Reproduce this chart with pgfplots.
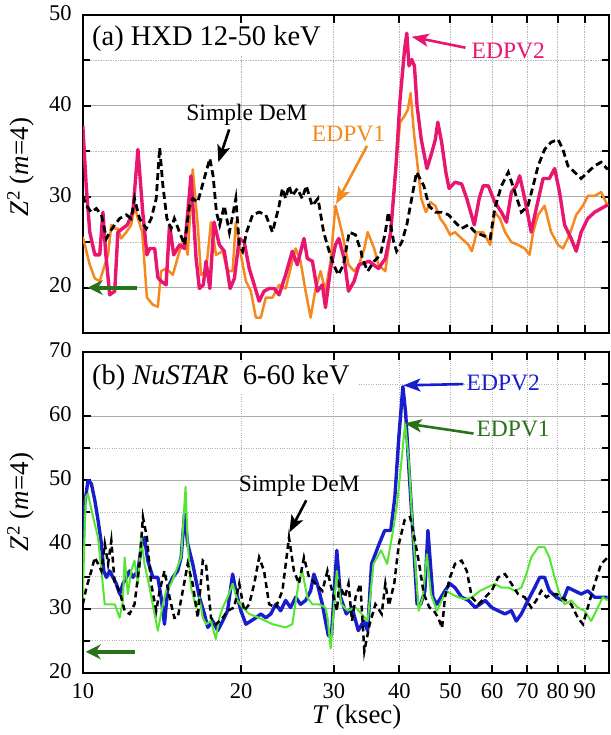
\documentclass[border=0pt]{standalone}
\usepackage{fontspec}
\setmainfont{Liberation Serif}
\usepackage{pgfplots}
\pgfplotsset{compat=1.18}
\usetikzlibrary{arrows.meta}

\definecolor{edpvtwo}{RGB}{232,22,110}
\definecolor{edpvone}{RGB}{245,137,31}
\definecolor{nublue}{RGB}{25,30,205}
\definecolor{nugreen}{RGB}{85,230,50}
\definecolor{darkgr}{RGB}{40,115,25}

\newcommand{\ticksize}{\fontsize{22.5}{26}\selectfont}
\newcommand{\titlesize}{\fontsize{28.5}{32}\selectfont}
\newcommand{\annsize}{\fontsize{23.5}{27}\selectfont}
\newcommand{\labsize}{\fontsize{27}{31}\selectfont}

\tikzset{
  annlbl/.style={font=\annsize, inner sep=1pt},
  annarrow/.style={-{Stealth[length=17pt,width=13pt,inset=4pt]}, line width=2.6pt},
  sigarrow/.style={darkgr, line width=4pt, -{Stealth[length=15pt,width=15pt]}},
}

\begin{document}
\begin{tikzpicture}
\path[use as bounding box] (-82.8pt,-62pt) rectangle (527.2pt,673pt);

% ---------------- (a) HXD 12-50 keV ----------------
\begin{axis}[at={(0pt,340pt)}, anchor=south west,
  scale only axis, width=526pt, height=318pt,
  xmode=log, xmin=10, xmax=100,
  xtick={10,20,30,40,50,60,70,80,90}, xticklabels={},
  minor xtick={20,30,40,50,60,70,80,90},
  ymin=15, ymax=50, ytick={20,30,40,50}, minor y tick num=1,
  axis line style={line width=2.2pt},
  tick style={line width=2pt, black},
  tick align=inside, major tick length=8pt, minor tick length=7pt,
  ymajorgrids, yminorgrids, xminorgrids,
  major grid style={gray!65, line width=1.2pt},
  minor grid style={gray!55, dash pattern=on 1.5pt off 1pt, line width=0.9pt},
  tick label style={font=\ticksize},
  /pgf/number format/assume math mode=true,
  yticklabel style={anchor=east, inner sep=0pt, xshift=-11pt, yshift=2pt}]
% EDPV1
\addplot[edpvone, line width=2.5pt, line join=round] coordinates {
(10.00,25.6)(10.31,22.5)(10.54,21.0)(10.77,20.7)(11.01,22.5)(11.17,23.6)(11.33,26.9)(11.50,26.5)(11.66,26.5)(11.83,25.4)(12.10,26.1)(12.36,26.9)(12.54,29.0)(12.73,27.6)(12.97,26.1)(13.24,18.9)(13.59,18.1)(13.89,17.9)(14.09,21.8)(14.40,22.1)(14.83,21.4)(15.27,24.0)(15.61,25.4)(15.83,23.6)(16.18,33.0)(16.54,26.9)(16.78,21.4)(17.15,21.8)(17.53,27.2)(17.92,23.6)(18.45,24.0)(18.85,21.8)(19.27,21.8)(19.54,27.2)(19.98,23.6)(20.42,20.7)(20.87,19.6)(21.33,16.7)(21.80,16.7)(22.28,18.9)(22.94,18.9)(23.61,20.3)(24.30,19.9)(25.02,22.9)(25.39,24.3)(25.94,22.9)(26.52,19.6)(27.11,16.7)(27.71,19.9)(28.32,21.8)(28.93,19.6)(29.58,22.9)(30.22,29.0)(31.1,26.1)(32.0,22.5)(32.8,21.8)(33.5,22.5)(34.3,24.3)(34.8,26.1)(35.8,24.3)(36.5,22.5)(37.6,21.8)(38.5,26.1)(39.4,33.4)(40.1,38.2)(40.9,38.9)(41.5,39.6)(42.0,41.4)(42.6,37.1)(43.3,33.4)(44.0,29.8)(44.9,28.3)(45.8,29.4)(46.8,29.0)(47.8,27.6)(48.8,26.9)(49.9,25.8)(51.0,26.1)(52.5,25.4)(54.1,24.7)(54.9,24.0)(56.1,26.1)(57.7,26.1)(59.5,24.7)(60.7,28.3)(62.1,27.6)(63.5,26.1)(65.3,25.0)(67.2,24.7)(69.2,24.3)(70.7,23.6)(71.8,26.1)(73.4,28.0)(75.5,29.0)(77.7,26.1)(80.1,24.7)(81.8,24.3)(84.2,25.8)(86.7,28.0)(89.3,29.0)(91.2,30.1)(94.0,30.1)(96.7,30.5)(99.5,29.0)
};
% EDPV2
\addplot[edpvtwo, line width=3.4pt, line join=round] coordinates {
(10.00,37.8)(10.15,31.2)(10.31,26.1)(10.54,23.6)(10.77,23.6)(10.92,28.3)(11.05,23.9)(11.25,19.2)(11.50,19.6)(11.66,26.1)(11.90,26.5)(12.15,26.9)(12.45,28.3)(12.73,35.2)(13.00,28.3)(13.24,23.6)(13.40,24.3)(13.70,24.3)(13.89,21.1)(14.09,20.7)(14.40,20.3)(14.62,26.9)(14.89,23.6)(15.27,24.7)(15.61,24.3)(16.06,32.3)(16.42,23.2)(16.66,19.9)(16.95,20.3)(17.15,22.9)(17.44,19.9)(17.76,27.2)(18.18,24.7)(18.58,24.0)(19.06,19.9)(19.42,21.0)(19.84,25.4)(20.27,25.0)(20.72,22.1)(21.18,20.3)(21.64,18.5)(22.11,19.6)(22.61,19.9)(23.11,19.9)(23.61,19.2)(24.30,21.4)(25.02,24.0)(25.57,22.5)(26.33,25.4)(26.72,23.2)(27.32,22.9)(27.93,19.6)(28.54,20.3)(28.93,17.8)(29.58,22.1)(30.22,24.7)(30.67,25.4)(31.4,23.2)(32.0,19.6)(32.8,20.7)(33.5,22.5)(35.0,22.9)(36.5,22.1)(37.6,23.2)(38.5,26.1)(39.4,33.4)(40.1,40.7)(40.9,46.2)(41.3,48.0)(41.7,44.4)(42.2,45.1)(42.7,44.4)(43.2,40.0)(44.0,36.3)(45.1,33.1)(46.1,34.9)(46.8,36.3)(47.3,38.2)(48.1,36.0)(49.0,32.7)(49.7,30.9)(51.0,31.6)(52.5,31.4)(53.7,29.8)(55.5,26.9)(56.7,29.8)(57.7,31.2)(59.0,31.2)(60.7,29.4)(62.5,28.3)(63.9,27.2)(65.3,30.5)(66.7,31.2)(67.7,32.3)(69.2,29.8)(71.2,26.1)(72.8,28.7)(75.0,32.0)(77.1,32.0)(78.9,33.1)(80.6,30.5)(82.4,26.9)(84.8,25.4)(86.7,24.0)(88.6,26.1)(91.2,27.6)(94.0,28.3)(96.7,28.7)(99.5,29.1)
};
% Simple DeM
\addplot[black, line width=2.8pt, dash pattern=on 7pt off 4pt] coordinates {
(10.00,30.1)(10.16,29.0)(10.38,28.3)(10.61,28.7)(10.85,28.0)(11.09,25.4)(11.25,26.1)(11.50,26.9)(11.75,27.6)(12.10,28.0)(12.36,27.6)(12.54,29.8)(12.82,27.6)(13.20,26.5)(13.49,27.6)(13.79,29.8)(14.00,35.4)(14.20,31.2)(14.45,27.6)(14.72,26.5)(14.93,27.6)(15.27,26.1)(15.61,24.7)(15.95,29.0)(16.18,29.8)(16.54,29.4)(16.87,31.2)(17.15,32.7)(17.44,34.2)(17.69,32.3)(17.95,28.3)(18.21,26.9)(18.58,29.0)(19.00,26.1)(19.54,29.8)(19.84,24.7)(20.13,24.0)(20.48,26.1)(21.03,28.0)(21.64,28.3)(22.28,28.0)(22.94,26.1)(23.61,29.0)(23.96,30.9)(24.30,29.8)(24.66,31.2)(25.02,30.1)(25.57,30.9)(26.13,29.8)(26.6,31.2)(27.3,29.0)(28.0,29.8)(28.7,26.1)(29.4,24.0)(30.0,22.5)(30.6,21.4)(31.3,22.5)(32.1,26.1)(33.0,25.8)(33.8,24.0)(34.0,23.2)(34.8,21.8)(35.8,22.9)(36.8,23.6)(37.6,26.1)(38.1,28.3)(39.0,25.0)(39.5,24.0)(40.4,25.0)(41.3,26.9)(42.2,29.8)(43.1,32.7)(44.5,31.2)(45.5,29.0)(46.8,28.3)(48.1,28.3)(49.6,28.0)(51.0,27.2)(52.5,26.5)(54.1,26.9)(55.7,26.1)(57.3,25.8)(59.5,25.4)(60.7,28.7)(62.5,31.2)(64.4,32.7)(66.3,30.5)(68.2,28.3)(70.2,29.0)(71.8,31.2)(73.4,33.4)(75.5,35.2)(77.7,36.0)(80.1,36.3)(81.8,35.2)(83.6,33.4)(86.1,32.7)(88.6,32.0)(91.2,32.7)(94.0,33.4)(96.7,33.8)(99.5,33.0)
};
% panel title
\node[fill=white, anchor=north west, inner xsep=8pt, inner ysep=3pt, font=\titlesize,
      xshift=1.1pt, yshift=-8pt] at (rel axis cs:0,1) {(a) HXD 12-50 keV};
% annotations
\node[annlbl] at (axis cs:20.5,38.96) {Simple DeM};
\draw[annarrow, black] (axis cs:18.98,37.4) -- (axis cs:18.1,33.8);
\node[annlbl, text=edpvone] at (axis cs:32.0,36.9) {EDPV1};
\draw[annarrow, edpvone] (axis cs:34.7,35.6) -- (axis cs:30.3,29.2);
\node[annlbl, text=edpvtwo] at (axis cs:64.4,46.1) {EDPV2};
\draw[annarrow, edpvtwo] (axis cs:53.4,46.4) -- (axis cs:42.2,47.6);
\draw[sigarrow] (axis cs:12.66,20) -- (axis cs:10.22,20);
\end{axis}

% ---------------- (b) NuSTAR 6-60 keV ----------------
\begin{axis}[at={(0pt,0pt)}, anchor=south west,
  scale only axis, width=526pt, height=321pt,
  xmode=log, xmin=10, xmax=100,
  xtick={10,20,30,40,50,60,70,80,90},
  xticklabels={10,20,30,40,50,60,70,80,90},
  minor xtick={20,30,40,50,60,70,80,90},
  ymin=20, ymax=70, ytick={20,30,40,50,60,70}, minor y tick num=1,
  axis line style={line width=2.2pt},
  tick style={line width=2pt, black},
  tick align=inside, major tick length=8pt, minor tick length=7pt,
  xminorgrids, ymajorgrids, yminorgrids,
  major grid style={gray!65, line width=1.2pt},
  minor grid style={gray!60, dotted, line width=0.9pt},
  tick label style={font=\ticksize},
  /pgf/number format/assume math mode=true,
  yticklabel style={anchor=east, inner sep=0pt, xshift=-11pt, yshift=2pt},
  xticklabel style={anchor=north, inner sep=0pt, yshift=-10pt}]
% EDPV2
\addplot[nublue, line width=3.4pt, line join=round] coordinates {
(10.00,39.6)(10.09,46.4)(10.23,50.0)(10.38,49.5)(10.54,46.9)(10.69,43.8)(10.85,40.1)(10.96,35.9)(11.09,34.9)(11.25,35.9)(11.41,34.9)(11.58,33.9)(11.75,32.3)(11.92,33.9)(12.10,34.9)(12.27,35.9)(12.45,34.9)(12.73,35.9)(12.91,39.6)(13.10,41.1)(13.29,37.5)(13.59,34.9)(13.89,34.9)(14.09,31.8)(14.30,27.6)(14.51,33.3)(14.83,34.9)(15.15,35.9)(15.38,38.0)(15.61,44.8)(15.83,40.1)(16.18,37.0)(16.66,31.8)(17.03,29.2)(17.28,27.1)(17.66,28.1)(18.05,26.6)(18.45,28.1)(18.85,29.7)(19.27,35.4)(19.54,32.8)(19.98,29.7)(20.42,27.6)(20.87,28.1)(21.33,28.6)(21.80,29.2)(22.28,28.6)(22.77,29.2)(23.27,30.7)(23.78,29.7)(24.30,31.3)(24.83,30.2)(25.39,31.8)(25.94,30.7)(26.52,31.3)(27.11,32.8)(27.50,35.4)(27.91,33.9)(28.54,30.7)(28.93,28.1)(29.3,25.8)(29.7,25.8)(30.4,39.1)(30.9,31.8)(31.7,29.2)(32.5,30.2)(33.4,26.6)(34.2,28.1)(34.8,26.6)(35.4,37.0)(36.6,40.1)(37.5,42.2)(38.5,42.2)(39.2,47.4)(39.9,56.8)(40.6,64.6)(41.1,60.4)(41.7,51.6)(42.4,42.2)(43.2,30.7)(43.9,30.7)(44.7,32.8)(45.3,42.2)(46.3,31.8)(47.1,30.7)(48.8,32.8)(49.9,33.9)(51.0,33.3)(52.5,31.8)(54.1,31.3)(55.7,30.2)(56.9,30.7)(58.2,31.3)(59.9,30.2)(61.6,29.7)(63.5,29.2)(65.3,29.7)(66.7,28.1)(68.2,29.2)(70.2,31.3)(72.3,33.3)(73.9,34.9)(75.5,34.9)(77.1,32.8)(79.5,31.8)(81.8,31.3)(83.6,33.3)(86.1,32.8)(88.6,32.3)(91.2,32.8)(94.0,31.8)(96.7,31.8)(99.5,31.8)
};
% EDPV1
\addplot[nugreen, line width=2pt, line join=round] coordinates {
(10.00,31.3)(10.04,37.0)(10.13,47.4)(10.23,47.9)(10.46,44.3)(10.69,41.1)(10.85,35.9)(11.01,30.7)(11.25,30.7)(11.50,30.7)(11.75,28.6)(11.92,31.3)(12.01,38.0)(12.18,32.3)(12.36,35.9)(12.54,37.5)(12.73,33.9)(12.91,41.1)(13.10,37.0)(13.39,33.3)(13.69,29.2)(13.89,26.6)(14.20,30.7)(14.40,32.8)(14.72,33.9)(15.04,35.9)(15.38,38.0)(15.68,49.0)(15.83,40.1)(16.06,33.3)(16.42,30.2)(16.66,31.8)(16.91,28.6)(17.15,27.6)(17.53,28.1)(17.90,25.3)(18.18,28.6)(18.45,30.2)(18.85,31.8)(19.27,33.9)(19.69,31.3)(20.13,30.2)(20.72,29.2)(21.64,28.6)(22.94,27.6)(24.30,27.1)(25.02,27.6)(25.76,34.4)(26.13,35.9)(26.72,31.8)(27.32,30.7)(28.13,30.7)(28.93,30.2)(29.2,28.6)(29.6,23.8)(30.4,35.9)(31.0,30.7)(31.9,29.7)(33.0,30.2)(33.9,29.2)(34.8,28.1)(35.7,37.0)(36.9,39.1)(37.9,37.0)(38.9,42.2)(39.6,46.4)(40.3,52.6)(41.0,58.9)(41.7,52.6)(42.4,42.2)(43.5,29.7)(44.3,31.8)(45.1,38.5)(45.9,32.3)(47.1,29.7)(49.1,32.8)(50.2,32.3)(51.8,31.8)(53.2,31.5)(54.9,31.8)(56.9,32.8)(58.6,33.3)(60.7,33.9)(62.5,33.3)(64.4,33.3)(66.3,32.8)(68.2,33.3)(69.7,35.4)(71.2,38.0)(73.4,39.6)(75.5,39.6)(77.1,38.0)(78.9,34.9)(80.6,32.3)(82.4,30.7)(84.8,31.3)(87.3,30.2)(89.9,29.7)(92.6,28.1)(95.3,30.2)(97.4,31.8)(99.5,31.3)
};
% Simple DeM
\addplot[black, line width=2.5pt, dash pattern=on 6pt off 4pt] coordinates {
(10.00,30.7)(10.16,33.3)(10.38,35.9)(10.54,38.0)(10.69,37.0)(10.85,35.9)(11.01,40.1)(11.17,37.0)(11.33,40.6)(11.50,33.9)(11.66,33.3)(11.83,31.8)(12.01,29.7)(12.27,29.2)(12.54,30.7)(12.82,37.0)(13.01,44.3)(13.24,41.1)(13.49,33.9)(13.79,29.7)(14.00,32.8)(14.30,35.9)(14.62,31.8)(14.93,28.6)(15.15,28.6)(15.49,32.8)(15.83,37.0)(16.18,33.9)(16.54,28.6)(16.91,37.5)(17.15,37.0)(17.53,28.6)(17.92,27.6)(18.45,28.6)(18.85,29.7)(19.40,30.2)(19.84,33.9)(20.27,29.7)(20.72,30.7)(21.18,33.9)(21.64,38.0)(22.11,35.9)(22.61,30.7)(23.27,30.2)(23.96,32.8)(24.66,41.1)(25.20,35.9)(25.76,33.9)(26.33,38.0)(26.92,34.9)(27.71,33.9)(28.54,32.8)(29.18,35.9)(29.78,32.8)(30.43,29.7)(30.7,33.9)(31.5,31.8)(32.0,33.9)(32.5,28.1)(33.0,31.8)(33.7,33.9)(34.3,23.4)(35.1,27.6)(36.0,30.7)(37.0,29.2)(37.6,33.9)(38.2,30.5)(39.1,34.0)(39.9,40.1)(40.9,43.8)(41.9,44.3)(42.7,41.1)(43.6,37.0)(44.5,32.3)(45.6,30.2)(46.5,29.7)(47.4,28.6)(48.2,27.0)(48.8,31.8)(49.9,34.9)(51.0,37.0)(52.5,37.5)(53.7,35.9)(54.9,31.8)(56.5,30.7)(58.2,31.8)(59.9,32.8)(61.6,34.9)(63.5,35.4)(65.3,33.9)(67.2,32.3)(69.2,31.8)(71.2,30.2)(72.8,31.3)(74.4,32.8)(76.1,31.8)(77.7,32.3)(79.5,32.3)(81.2,31.8)(83.0,31.3)(84.8,30.7)(87.3,28.6)(89.3,27.6)(91.2,30.2)(94.0,33.9)(96.7,37.0)(99.5,38.0)
};
% panel title
\node[fill=white, anchor=north west, inner xsep=8pt, inner ysep=3pt, font=\titlesize,
      xshift=1.1pt, yshift=-10pt] at (rel axis cs:0,1) {(b) \textit{NuSTAR}\ \ 6-60 keV};
% annotations
\node[annlbl] at (axis cs:25.8,49.2) {Simple DeM};
\draw[annarrow, black] (axis cs:26.6,46.9) -- (axis cs:24.7,41.9);
\node[annlbl, text=nublue] at (axis cs:63.0,65.2) {EDPV2};
\draw[annarrow, nublue] (axis cs:52.9,65.0) -- (axis cs:40.7,64.8);
\node[annlbl, text=darkgr] at (axis cs:65.8,58.0) {EDPV1};
\draw[annarrow, darkgr] (axis cs:55.3,57.3) -- (axis cs:40.9,58.9);
\draw[sigarrow] (axis cs:12.55,23.3) -- (axis cs:10.13,23.3);
\end{axis}

% axis titles
\node[font=\labsize, rotate=90] at (-62pt,506pt) {\textit{Z}\textsuperscript{2} (\textit{m}=4)};
\node[font=\labsize, rotate=90] at (-62pt,171pt) {\textit{Z}\textsuperscript{2} (\textit{m}=4)};
\node[font=\labsize] at (274pt,-44pt) {\textit{T} (ksec)};
\end{tikzpicture}
\end{document}
